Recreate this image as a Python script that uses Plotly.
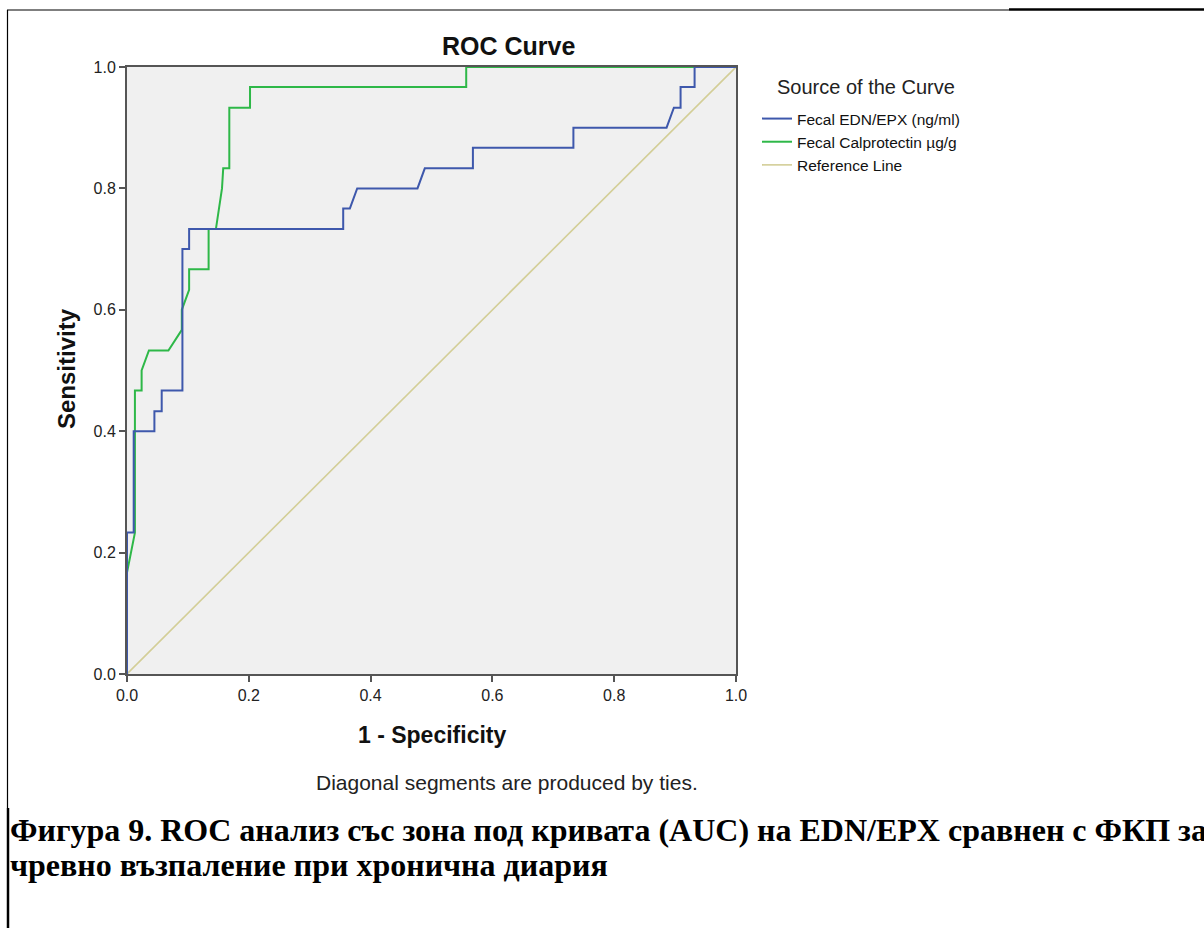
import plotly.graph_objects as go

# Canvas and plot-area geometry (pixels)
W, H = 1204, 928
PLOT_L, PLOT_R, PLOT_T, PLOT_B = 127, 736, 67, 674

# ROC coordinates: 1 - Specificity (x) and Sensitivity (y)
fpr_edn = [0.0, 0.0, 0.011, 0.011, 0.045, 0.045, 0.057, 0.057, 0.091, 0.091,
           0.102, 0.102, 0.355, 0.355, 0.366, 0.378, 0.477, 0.489, 0.568, 0.568,
           0.733, 0.733, 0.886, 0.898, 0.909, 0.909, 0.932, 0.932, 1.0]
tpr_edn = [0.0, 0.233, 0.233, 0.4, 0.4, 0.433, 0.433, 0.467, 0.467, 0.7,
           0.7, 0.733, 0.733, 0.767, 0.767, 0.8, 0.8, 0.833, 0.833, 0.867,
           0.867, 0.9, 0.9, 0.933, 0.933, 0.967, 0.967, 1.0, 1.0]

fpr_calpro = [0.0, 0.0, 0.013, 0.013, 0.024, 0.024, 0.036, 0.068, 0.09, 0.09,
              0.102, 0.102, 0.134, 0.134, 0.146, 0.156, 0.158, 0.168, 0.168,
              0.202, 0.202, 0.557, 0.557, 1.0]
tpr_calpro = [0.0, 0.167, 0.233, 0.467, 0.467, 0.5, 0.533, 0.533, 0.567, 0.6,
              0.633, 0.667, 0.667, 0.733, 0.733, 0.8, 0.833, 0.833, 0.933,
              0.933, 0.967, 0.967, 1.0, 1.0]

ref_x = [0.0, 1.0]
ref_y = [0.0, 1.0]

series_names = ["Fecal EDN/EPX (ng/ml)", "Fecal Calprotectin µg/g", "Reference Line"]
series_colors = ["#3E58AC", "#2EB848", "#D3CE97"]

tick_vals = [0.0, 0.2, 0.4, 0.6, 0.8, 1.0]
tick_text = ["0.0", "0.2", "0.4", "0.6", "0.8", "1.0"]

caption_lines = [
    "Фигура 9. ROC анализ със зона под кривата (AUC) на EDN/EPX сравнен с ФКП за",
    "чревно възпаление при хронична диария",
]

SANS = "Liberation Sans, Arial, sans-serif"
SERIF = "Liberation Serif, Times New Roman, serif"


def px(x):
    """Pixel x -> paper x."""
    return (x - PLOT_L) / (PLOT_R - PLOT_L)


def py(y):
    """Pixel y -> paper y."""
    return (PLOT_B - y) / (PLOT_B - PLOT_T)


fig = go.Figure()

fig.add_trace(go.Scatter(
    x=ref_x, y=ref_y, mode="lines", name=series_names[2],
    line=dict(color=series_colors[2], width=1.6), legendrank=3,
    cliponaxis=False, hoverinfo="skip"))
fig.add_trace(go.Scatter(
    x=fpr_calpro, y=tpr_calpro, mode="lines", name=series_names[1],
    line=dict(color=series_colors[1], width=2), legendrank=2,
    cliponaxis=False))
fig.add_trace(go.Scatter(
    x=fpr_edn, y=tpr_edn, mode="lines", name=series_names[0],
    line=dict(color=series_colors[0], width=2), legendrank=1,
    cliponaxis=False))

axis_common = dict(
    range=[0, 1], tickvals=tick_vals, ticktext=tick_text,
    showgrid=False, zeroline=False, showline=True, mirror=True,
    linecolor="#555555", linewidth=2, ticks="outside", ticklen=6,
    tickwidth=2, tickcolor="#555555", layer="below traces",
    tickfont=dict(family=SANS, size=16, color="#222222"),
    fixedrange=True,
)

fig.update_layout(
    width=W, height=H,
    margin=dict(l=PLOT_L, r=W - PLOT_R, t=PLOT_T, b=H - PLOT_B, pad=0),
    paper_bgcolor="white", plot_bgcolor="#F0F0F0",
    xaxis=dict(**axis_common),
    yaxis=dict(**axis_common),
    showlegend=True,
    legend=dict(
        x=px(757), y=py(102), xanchor="left", yanchor="top",
        font=dict(family=SANS, size=15.5, color="#111111"),
        bgcolor="rgba(0,0,0,0)", borderwidth=0, traceorder="normal",
        itemclick=False, itemdoubleclick=False,
    ),
)

annotations = [
    dict(text="<b>ROC Curve</b>", x=px(508), y=py(46), xanchor="center",
         yanchor="middle", font=dict(family=SANS, size=25, color="#111111")),
    dict(text="<b>Sensitivity</b>", x=px(66), y=py(369), xanchor="center",
         yanchor="middle", textangle=-90,
         font=dict(family=SANS, size=24, color="#111111")),
    dict(text="<b>1 - Specificity</b>", x=px(432), y=py(735), xanchor="center",
         yanchor="middle", font=dict(family=SANS, size=23, color="#111111")),
    dict(text="Diagonal segments are produced by ties.", x=px(507), y=py(782),
         xanchor="center", yanchor="middle",
         font=dict(family=SANS, size=21, color="#222222")),
    dict(text="Source of the Curve", x=px(775), y=py(87), xanchor="left",
         yanchor="middle", font=dict(family=SANS, size=20, color="#222222")),
    dict(text="<b>" + caption_lines[0] + "</b>", x=px(8), y=py(830),
         xanchor="left", yanchor="middle",
         font=dict(family=SERIF, size=32, color="#000000")),
    dict(text="<b>" + caption_lines[1] + "</b>", x=px(8), y=py(865),
         xanchor="left", yanchor="middle",
         font=dict(family=SERIF, size=32, color="#000000")),
]
for a in annotations:
    a.update(xref="paper", yref="paper", showarrow=False)
fig.update_layout(annotations=annotations)

# Page frame lines around the figure block
frame = [
    dict(x0=px(7), x1=px(1009), y0=py(10), y1=py(10), w=1.2),
    dict(x0=px(1009), x1=px(1204), y0=py(9.5), y1=py(9.5), w=2.5),
    dict(x0=px(7.5), x1=px(7.5), y0=py(10), y1=py(808), w=1.2),
    dict(x0=px(8), x1=px(8), y0=py(808), y1=py(928), w=2.5),
]
fig.update_layout(shapes=[
    dict(type="line", xref="paper", yref="paper", x0=f["x0"], x1=f["x1"],
         y0=f["y0"], y1=f["y1"], line=dict(color="black", width=f["w"]),
         layer="above")
    for f in frame
])

fig.write_html("out.html", config={"displayModeBar": False})
